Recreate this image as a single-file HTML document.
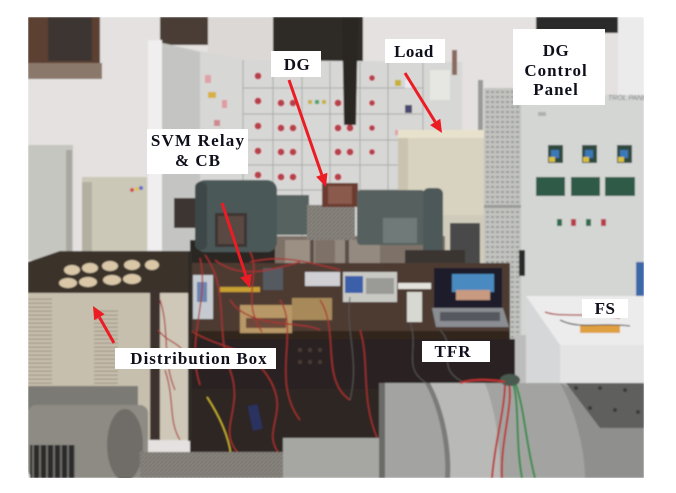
<!DOCTYPE html>
<html><head><meta charset="utf-8">
<style>
html,body{margin:0;padding:0;background:#fff;width:676px;height:493px;overflow:hidden}
svg{display:block}
.lbl{font-family:"Liberation Serif",serif;font-weight:bold;fill:#10101c;text-anchor:middle}
</style></head><body>
<svg width="676" height="493" viewBox="0 0 676 493" xmlns="http://www.w3.org/2000/svg">
<defs>
<clipPath id="ph"><rect x="28" y="17" width="616" height="461"/></clipPath>
<filter id="soft" x="-5%" y="-5%" width="110%" height="110%"><feGaussianBlur stdDeviation="0.8"/></filter>
<pattern id="vent" width="6" height="4" patternUnits="userSpaceOnUse"><rect width="6" height="4" fill="#c7bfad"/><rect y="2.5" width="6" height="1.3" fill="#a39a88"/></pattern>
<pattern id="vent2" width="5" height="5" patternUnits="userSpaceOnUse"><rect width="5" height="5" fill="#c2c3c0"/><rect x="1" y="1" width="3" height="2" fill="#9a9b98"/></pattern>
<pattern id="grill" width="4" height="4" patternUnits="userSpaceOnUse"><rect width="4" height="4" fill="#8c8882"/><path d="M0,4 L4,0" stroke="#6a6660" stroke-width="1"/></pattern>
<pattern id="slat" width="7" height="6" patternUnits="userSpaceOnUse"><rect width="7" height="6" fill="#2c2c2a"/><rect x="4" width="2" height="6" fill="#6e6d68"/></pattern>
</defs>

<g clip-path="url(#ph)">
<g filter="url(#soft)">
<!-- wall -->
<rect x="28" y="17" width="616" height="461" fill="#e4e1e0"/>
<!-- window top-left -->
<rect x="28" y="17" width="72" height="50" fill="#5b4130"/>
<rect x="48" y="17" width="44" height="44" fill="#3d3431"/>
<rect x="28" y="63" width="74" height="16" fill="#8a786a"/>
<!-- top dark stuff -->
<rect x="160" y="17" width="48" height="28" fill="#4a3d35"/>
<rect x="208" y="17" width="65" height="45" fill="#dcd8d5"/>
<rect x="273" y="17" width="90" height="46" fill="#2f2a28"/>
<rect x="536" y="17" width="82" height="16" fill="#2a2a2a"/>
<rect x="618" y="17" width="26" height="250" fill="#ecebeb"/>
<!-- pillar -->
<rect x="148" y="40" width="14" height="210" fill="#f0eeee"/>
<!-- left cabinets -->
<rect x="28" y="145" width="45" height="115" fill="#c6c6c0"/>
<rect x="66" y="150" width="6" height="110" fill="#a8a8a2"/>
<rect x="82" y="177" width="65" height="75" fill="#cbc8b8"/>
<rect x="82" y="182" width="10" height="70" fill="#b3b0a2"/>
<circle cx="132" cy="190" r="2" fill="#d04a4a"/><circle cx="137" cy="189" r="2" fill="#e8c040"/><circle cx="141" cy="188" r="2" fill="#5a6ad0"/>

<!-- switchgear -->
<polygon points="162,43 243,60 462,62 462,252 162,252" fill="#d7d7d5"/>
<polygon points="162,43 200,52 200,252 162,252" fill="#c4c5c3"/>
<g stroke="#a9a9a7" stroke-width="1">
<line x1="243" y1="60" x2="243" y2="252"/><line x1="273" y1="62" x2="273" y2="252"/>
<line x1="302" y1="62" x2="302" y2="252"/><line x1="330" y1="62" x2="330" y2="252"/>
<line x1="360" y1="62" x2="360" y2="252"/><line x1="388" y1="62" x2="388" y2="252"/>
<line x1="423" y1="62" x2="423" y2="252"/>
<line x1="243" y1="88" x2="423" y2="88"/><line x1="243" y1="114" x2="423" y2="114"/>
<line x1="243" y1="140" x2="423" y2="140"/><line x1="243" y1="165" x2="423" y2="165"/>
<line x1="243" y1="190" x2="423" y2="190"/>
</g>
<g fill="#b8404c" stroke="#e8e0e0" stroke-width="1">
<circle cx="258" cy="76" r="4"/><circle cx="258" cy="101" r="4"/><circle cx="258" cy="126" r="4"/><circle cx="258" cy="151" r="4"/><circle cx="258" cy="175" r="4"/>
<circle cx="281" cy="103" r="4"/><circle cx="293" cy="103" r="4"/><circle cx="281" cy="128" r="4"/><circle cx="293" cy="128" r="4"/>
<circle cx="281" cy="152" r="4"/><circle cx="293" cy="152" r="4"/><circle cx="281" cy="177" r="4"/><circle cx="293" cy="177" r="4"/>
<circle cx="338" cy="103" r="4"/><circle cx="350" cy="103" r="4"/><circle cx="338" cy="128" r="4"/><circle cx="350" cy="128" r="4"/>
<circle cx="338" cy="152" r="4"/><circle cx="350" cy="152" r="4"/><circle cx="338" cy="177" r="4"/>
<circle cx="372" cy="78" r="3.5"/><circle cx="372" cy="103" r="3.5"/><circle cx="372" cy="128" r="3.5"/><circle cx="372" cy="152" r="3.5"/>
</g>
<g>
<rect x="208" y="92" width="8" height="6" fill="#d8b040"/><rect x="205" y="75" width="6" height="8" fill="#e0a0a8"/>
<rect x="222" y="100" width="5" height="8" fill="#e09aa0"/><rect x="214" y="120" width="6" height="6" fill="#d08890"/>
<rect x="308" y="100" width="4" height="4" fill="#c8b030"/><rect x="315" y="100" width="4" height="4" fill="#40a060"/><rect x="322" y="100" width="4" height="4" fill="#c8b030"/>
<rect x="395" y="80" width="6" height="6" fill="#c8b030"/><rect x="405" y="80" width="7" height="8" fill="#e8e8f0"/>
<rect x="405" y="105" width="7" height="8" fill="#4a4a70"/><rect x="395" y="130" width="5" height="5" fill="#e0a0a8"/>
<rect x="430" y="70" width="20" height="30" fill="#e6e6e2"/>
<rect x="452" y="50" width="5" height="25" fill="#8a6a60"/>
</g>
<!-- chain -->
<path d="M342,17 L358,17 L356,125 L344,125 Z" fill="#2a2623"/>
<!-- pole -->
<rect x="478" y="80" width="5" height="70" fill="#9a9a98"/>

<!-- load box -->
<rect x="398" y="130" width="90" height="95" fill="#d8d3c0"/>
<rect x="398" y="130" width="90" height="8" fill="#e8e2cc"/>
<rect x="398" y="138" width="10" height="87" fill="#c9c3b0"/>
<rect x="440" y="215" width="48" height="52" fill="#cfcbbb"/>
<rect x="450" y="223" width="30" height="44" fill="#4a4a4a"/>

<!-- DG control panel -->
<rect x="484" y="88" width="38" height="252" fill="url(#vent2)"/>
<rect x="484" y="205" width="38" height="3" fill="#9a9b98"/>
<rect x="521" y="95" width="123" height="245" fill="#d4d6d4"/>
<text x="608" y="100" font-family="Liberation Sans,sans-serif" font-size="7" font-style="italic" fill="#7a7c80">TROL PANEL</text>
<rect x="538" y="112" width="8" height="4" fill="#b0b0b0"/>
<g>
<rect x="548" y="145" width="15" height="18" fill="#2d4a3e"/><rect x="551" y="150" width="8" height="8" fill="#3a78b8"/><rect x="549" y="157" width="6" height="5" fill="#d8c040"/>
<rect x="582" y="145" width="15" height="18" fill="#2d4a3e"/><rect x="585" y="150" width="8" height="8" fill="#3a78b8"/><rect x="583" y="157" width="6" height="5" fill="#d8c040"/>
<rect x="617" y="145" width="15" height="18" fill="#2d4a3e"/><rect x="620" y="150" width="8" height="8" fill="#3a78b8"/><rect x="618" y="157" width="6" height="5" fill="#d8c040"/>
<rect x="536" y="177" width="29" height="19" fill="#2e5a46"/>
<rect x="571" y="177" width="29" height="19" fill="#2e5a46"/>
<rect x="605" y="177" width="30" height="19" fill="#2e5a46"/>
<rect x="557" y="219" width="5" height="7" fill="#2f6a4e"/><rect x="571" y="219" width="5" height="7" fill="#b83a46"/>
<rect x="586" y="219" width="5" height="7" fill="#2f6a4e"/><rect x="601" y="219" width="5" height="7" fill="#b83a46"/>
<rect x="519" y="250" width="6" height="26" fill="#2a2a2a"/>
</g>
<rect x="636" y="262" width="8" height="40" fill="#3d68a8"/>

<!-- dark behind-table band -->
<rect x="190" y="240" width="90" height="30" fill="#2a2523"/>
<!-- motor base -->
<rect x="275" y="236" width="170" height="32" fill="#7e7268"/>
<rect x="285" y="240" width="30" height="24" fill="#9c9084"/>
<rect x="335" y="240" width="45" height="24" fill="#958a80"/>
<rect x="310" y="240" width="4" height="28" fill="#5a504a"/>
<rect x="345" y="240" width="4" height="28" fill="#5a504a"/>
<!-- wire bundle behind motor -->
<rect x="174" y="198" width="26" height="30" fill="#3e3632"/>
<!-- motor -->
<rect x="195" y="180" width="82" height="72" rx="10" fill="#4c5959"/>
<rect x="195" y="182" width="12" height="68" rx="5" fill="#3c4747"/>
<rect x="215" y="213" width="32" height="34" fill="#3d3530"/>
<rect x="218" y="216" width="26" height="28" fill="#5a4a42"/>
<rect x="277" y="195" width="32" height="40" fill="#56625f"/>
<rect x="307" y="205" width="48" height="35" fill="url(#grill)"/>
<rect x="322" y="183" width="36" height="24" fill="#6a3a2e"/>
<rect x="328" y="186" width="24" height="18" fill="#8a5a4e"/>
<rect x="357" y="190" width="68" height="55" rx="4" fill="#56615f"/>
<rect x="383" y="218" width="34" height="25" fill="#707a78"/>
<rect x="423" y="188" width="20" height="72" rx="6" fill="#4e5958"/>
<rect x="405" y="250" width="60" height="16" fill="#3a3431"/>

<!-- table -->
<rect x="190" y="263" width="320" height="70" fill="#4d3b32"/>
<rect x="190" y="331" width="320" height="8" fill="#33261f"/>
<rect x="190" y="339" width="336" height="50" fill="#2b2420"/>
<rect x="190" y="389" width="193" height="66" fill="#2e2622"/>
<g fill="#4a3a34"><circle cx="300" cy="350" r="2"/><circle cx="310" cy="350" r="2"/><circle cx="320" cy="350" r="2"/><circle cx="300" cy="362" r="2"/><circle cx="310" cy="362" r="2"/><circle cx="320" cy="362" r="2"/></g>
<rect x="515" y="335" width="11" height="55" fill="#bdbebc"/>

<!-- table items -->
<rect x="193" y="275" width="20" height="44" fill="#c5cbd0"/>
<rect x="197" y="282" width="10" height="20" fill="#6a84b0"/>
<rect x="220" y="287" width="40" height="5" fill="#c8a030"/>
<rect x="263" y="268" width="20" height="22" fill="#555a60"/>
<rect x="240" y="305" width="52" height="28" fill="#b89866"/>
<rect x="246" y="318" width="40" height="10" fill="#6a4a3a"/>
<rect x="292" y="298" width="40" height="22" fill="#a88a5a"/>
<rect x="305" y="272" width="35" height="14" fill="#d0d0d4"/>
<rect x="343" y="272" width="54" height="30" fill="#c9c9c4"/>
<rect x="345" y="276" width="18" height="17" fill="#3b5fa8"/>
<rect x="366" y="278" width="28" height="16" fill="#9a9a96"/>
<rect x="398" y="283" width="33" height="6" fill="#e4e2dc"/>
<rect x="407" y="292" width="15" height="30" fill="#d8d8d2"/>
<!-- laptop -->
<rect x="434" y="268" width="68" height="40" fill="#1c1f2a"/>
<rect x="452" y="274" width="42" height="18" fill="#4a8ac0"/>
<rect x="456" y="290" width="34" height="10" fill="#c89a80"/>
<polygon points="432,308 503,308 509,327 436,327" fill="#8a8d92"/>
<rect x="440" y="312" width="60" height="9" fill="#55585e"/>

<!-- wires -->
<g fill="none" stroke="#a83030" stroke-width="1.3">
<path d="M200,258 C210,300 185,340 200,385"/>
<path d="M205,255 C230,290 215,330 230,370 S215,430 240,455"/>
<path d="M250,252 C262,272 240,300 262,332"/>
<path d="M280,300 C300,330 270,380 300,420"/>
<path d="M230,300 C250,330 300,320 320,330"/>
<path d="M168,300 C180,330 175,360 186,400"/>
<path d="M175,320 C185,350 200,380 175,420"/>
<path d="M320,300 C340,330 320,380 350,400"/>
<path d="M360,330 C370,360 360,400 378,440"/>
<path d="M215,260 C240,280 270,270 300,262"/>
<path d="M190,330 C220,350 250,345 270,380 S260,430 280,455"/>
<path d="M340,270 C300,260 280,255 250,262"/>
</g>
<g fill="none" stroke="#555" stroke-width="1">
<path d="M350,297 C345,330 360,360 350,400"/>
<path d="M410,322 C420,350 400,370 430,385"/>
<path d="M440,330 C460,350 430,370 470,385"/>
</g>
<path d="M207,397 C222,420 229,440 231,455" fill="none" stroke="#d8c030" stroke-width="1.3"/>
<rect x="250" y="405" width="10" height="25" fill="#2a3060" transform="rotate(-12 255 417)"/>

<!-- distribution box -->
<polygon points="28,262 60,251 192,251 192,293 28,293" fill="#3a302a"/>
<g fill="#d9c7a8">
<ellipse cx="72" cy="270" rx="8" ry="5"/><ellipse cx="90" cy="268" rx="8" ry="5"/><ellipse cx="110" cy="266" rx="8" ry="5"/><ellipse cx="132" cy="265" rx="8" ry="5"/><ellipse cx="152" cy="265" rx="7" ry="5"/>
<ellipse cx="68" cy="283" rx="9" ry="5"/><ellipse cx="88" cy="282" rx="9" ry="5"/><ellipse cx="112" cy="280" rx="9" ry="5"/><ellipse cx="132" cy="279" rx="9" ry="5"/>
</g>
<rect x="28" y="293" width="125" height="147" fill="#c7bfad"/>
<rect x="28" y="298" width="24" height="122" fill="url(#vent)"/>
<rect x="94" y="308" width="24" height="112" fill="url(#vent)"/>
<rect x="150" y="290" width="10" height="150" fill="#3d332d"/>
<rect x="160" y="293" width="30" height="147" fill="#cfc8b8"/>
<rect x="188" y="251" width="4" height="190" fill="#2f2925"/>
<g fill="none" stroke="#a83030" stroke-width="1.2">
<path d="M160,300 C170,330 162,360 175,390"/>
<path d="M165,370 C175,400 168,420 180,440"/>
<path d="M158,330 C170,345 180,340 188,360"/>
</g>

<!-- bottom left motor -->
<rect x="28" y="386" width="110" height="24" fill="#7c7a74"/>
<rect x="28" y="405" width="120" height="73" rx="8" fill="#8d8b83"/>
<rect x="30" y="445" width="45" height="33" fill="url(#slat)"/>
<ellipse cx="125" cy="445" rx="18" ry="36" fill="#6f6d68"/>
<rect x="140" y="452" width="145" height="26" fill="url(#grill)"/>
<rect x="283" y="438" width="100" height="40" fill="#a6a7a3"/>

<!-- FS box -->
<rect x="526" y="296" width="118" height="96" fill="#e4e4e4"/>
<polygon points="526,296 644,296 644,345 560,345" fill="#ececec"/>
<polygon points="526,296 560,345 560,392 526,392" fill="#d6d7d8"/>
<rect x="580" y="325" width="40" height="8" fill="#e0a040"/>
<path d="M545,312 C560,318 590,312 620,318" fill="none" stroke="#a83030" stroke-width="1.3"/>
<path d="M560,320 C580,330 600,322 630,326" fill="none" stroke="#333" stroke-width="1"/>

<!-- big gray motor -->
<rect x="379" y="383" width="265" height="95" fill="#a3a4a1"/>
<rect x="379" y="383" width="6" height="95" fill="#6a6b68"/>
<path d="M430,383 C445,410 452,450 450,478 L500,478 C500,440 495,410 485,383 Z" fill="#b9bab7"/>
<path d="M425,383 C440,410 447,450 445,478 L450,478 C452,450 445,410 430,383 Z" fill="#7a7b78"/>
<path d="M560,383 C575,410 585,450 585,478 L644,478 L644,425 Z" fill="#8f908d"/>
<polygon points="566,383 644,383 644,428 600,428" fill="#5e5f5d"/>
<g fill="#3a3a38"><circle cx="576" cy="388" r="2"/><circle cx="600" cy="388" r="2"/><circle cx="625" cy="390" r="2"/><circle cx="590" cy="408" r="2"/><circle cx="615" cy="410" r="2"/><circle cx="638" cy="412" r="2"/></g>
<g fill="none" stroke-width="2">
<path d="M508,380 C515,400 500,440 502,478" stroke="#b83030"/>
<path d="M512,380 C520,400 515,440 522,478" stroke="#2f8a4a"/>
<path d="M515,382 C525,410 525,440 535,478" stroke="#2f8a4a"/>
<path d="M505,382 C505,410 495,440 492,478" stroke="#b83030"/>
</g>
<ellipse cx="510" cy="380" rx="10" ry="6" fill="#4a5a50"/>
<path d="M460,383 C475,378 495,380 505,382" fill="none" stroke="#c03030" stroke-width="2"/>
</g>
</g>

<!-- labels -->
<g>
<rect x="271" y="51" width="50" height="26" fill="#fff"/>
<text class="lbl" x="297" y="70" font-size="17" letter-spacing="0.5">DG</text>

<rect x="147" y="129" width="101" height="45" fill="#fff"/>
<text class="lbl" x="198" y="146" font-size="17" letter-spacing="1.2">SVM Relay</text>
<text class="lbl" x="198" y="166" font-size="17" letter-spacing="1">&amp; CB</text>

<rect x="385" y="39" width="60" height="24" fill="#fff"/>
<text class="lbl" x="414" y="57" font-size="17" letter-spacing="0.5">Load</text>

<rect x="513" y="29" width="92" height="76" fill="#fff"/>
<text class="lbl" x="556" y="56" font-size="17" letter-spacing="0.5">DG</text>
<text class="lbl" x="556" y="76" font-size="17" letter-spacing="1">Control</text>
<text class="lbl" x="556" y="95" font-size="17" letter-spacing="1">Panel</text>

<rect x="115" y="348" width="161" height="21" fill="#fff"/>
<text class="lbl" x="199" y="364" font-size="17" letter-spacing="1">Distribution Box</text>

<rect x="422" y="341" width="68" height="21" fill="#fff"/>
<text class="lbl" x="453" y="357" font-size="17" letter-spacing="1">TFR</text>

<rect x="582" y="299" width="46" height="19" fill="#fff"/>
<text class="lbl" x="605" y="314" font-size="17" letter-spacing="0.5">FS</text>
</g>

<!-- arrows -->
<g stroke="#ec1c24" stroke-width="3" fill="none">
<line x1="289" y1="80" x2="321.8" y2="174.7"/>
<line x1="405" y1="73" x2="435.2" y2="121.9"/>
<line x1="222" y1="203" x2="245.9" y2="275.7"/>
<line x1="114" y1="343" x2="99.4" y2="317.3"/>
</g>
<g fill="#ec1c24">
<polygon points="326,187 316.1,176.7 327.4,172.7"/>
<polygon points="442,133 430.1,125.1 440.3,118.8"/>
<polygon points="250,288 240.2,277.5 251.6,273.8"/>
<polygon points="93,306 104.6,314.3 94.2,320.3"/>
</g>
</svg>
</body></html>
